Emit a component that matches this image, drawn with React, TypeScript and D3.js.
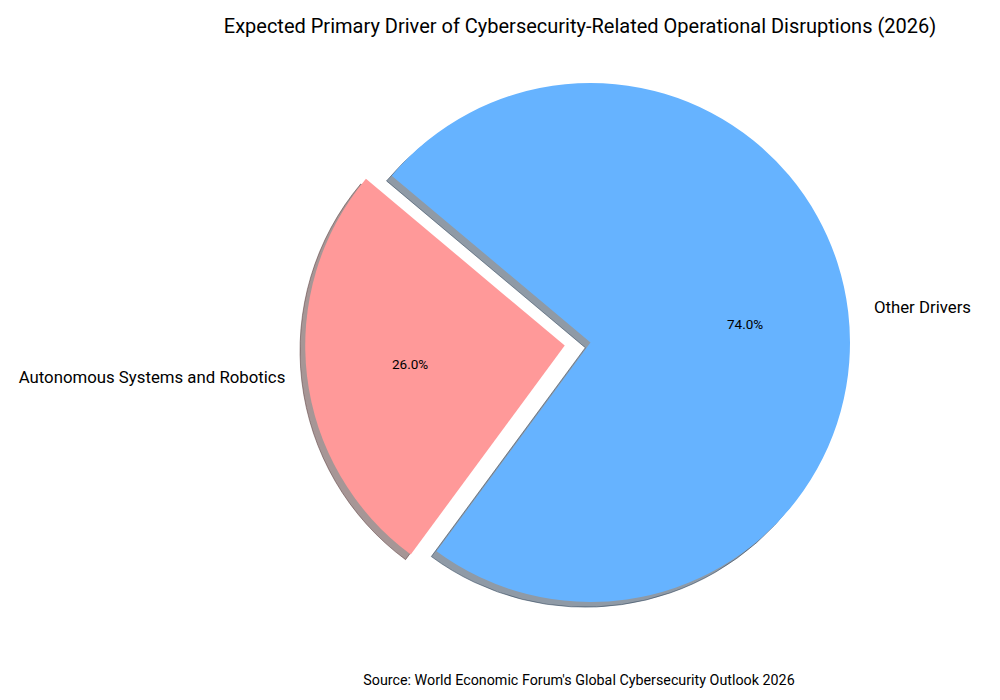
import React from 'react';
import * as d3 from 'd3';

const labels = ['Autonomous Systems and Robotics', 'Other Drivers'];
const values = [26, 74];
const colors = ['#ff9999', '#66b3ff'];
const explode = [0.1, 0];

const title = 'Expected Primary Driver of Cybersecurity-Related Operational Disruptions (2026)';
const source = "Source: World Economic Forum's Global Cybersecurity Outlook 2026";

const width = 1000;
const height = 700;
const cx = 590.5;
const cy = 342.5;
const radius = 259.5;
const font = 'Roboto, "DejaVu Sans", sans-serif';

// matplotlib startangle=140, counterclockwise -> d3 angles run the other way
const start = ((90 - 140) * Math.PI) / 180;

const App: React.FC = () => {
  const pie = d3.pie<number>()
    .sort(null)
    .value(d => d)
    .startAngle(start)
    .endAngle(start - 2 * Math.PI);

  const arcs = pie(values);
  const arc = d3.arc<d3.PieArcDatum<number>>().innerRadius(0).outerRadius(radius);

  const shade = (c: string) => {
    const rgb = d3.rgb(c);
    return d3.rgb(rgb.r * 0.3, rgb.g * 0.3, rgb.b * 0.3).formatHex();
  };

  const wedges = arcs.map((a, i) => {
    const mid = (a.startAngle + a.endAngle) / 2;
    const ox = explode[i] * radius * Math.sin(mid);
    const oy = -explode[i] * radius * Math.cos(mid);
    const at = (k: number) => [ox + k * radius * Math.sin(mid), oy - k * radius * Math.cos(mid)];
    return { a, i, ox, oy, mid, label: at(1.1), pct: at(0.6) };
  });

  const fmt = d3.format('.1f');
  const total = d3.sum(values);

  return (
    <svg width={width} height={height} style={{ position: 'absolute', left: 0, top: 0, background: '#fff' }}>
      <text x={580} y={33} textAnchor="middle" fontFamily={font} fontSize={20} fill="#000">
        {title}
      </text>
      <g transform={`translate(${cx},${cy})`}>
        {wedges.map(w => (
          <path
            key={`s${w.i}`}
            d={arc(w.a) ?? ''}
            transform={`translate(${w.ox - 0.02 * radius},${w.oy + 0.02 * radius})`}
            fill={shade(colors[w.i])}
            fillOpacity={0.5}
            stroke={shade(colors[w.i])}
            strokeOpacity={0.5}
            strokeWidth={1}
          />
        ))}
        {wedges.map(w => (
          <path key={`w${w.i}`} d={arc(w.a) ?? ''} transform={`translate(${w.ox},${w.oy})`} fill={colors[w.i]} />
        ))}
        {wedges.map(w => (
          <text
            key={`l${w.i}`}
            x={w.label[0] + (w.label[0] < 0 ? 4 : 0)}
            y={w.label[1] - 2}
            dy="0.35em"
            textAnchor={w.label[0] < 0 ? 'end' : 'start'}
            fontFamily={font}
            fontSize={16.8}
            fill="#000"
          >
            {labels[w.i]}
          </text>
        ))}
        {wedges.map(w => (
          <text
            key={`p${w.i}`}
            x={w.pct[0]}
            y={w.pct[1]}
            dy="0.35em"
            textAnchor="middle"
            fontFamily={font}
            fontSize={13.5}
            fill="#000"
          >
            {fmt((values[w.i] / total) * 100)}%
          </text>
        ))}
      </g>
      <text x={579} y={685} textAnchor="middle" fontFamily={font} fontSize={14.3} fill="#000">
        {source}
      </text>
    </svg>
  );
};

export default App;
